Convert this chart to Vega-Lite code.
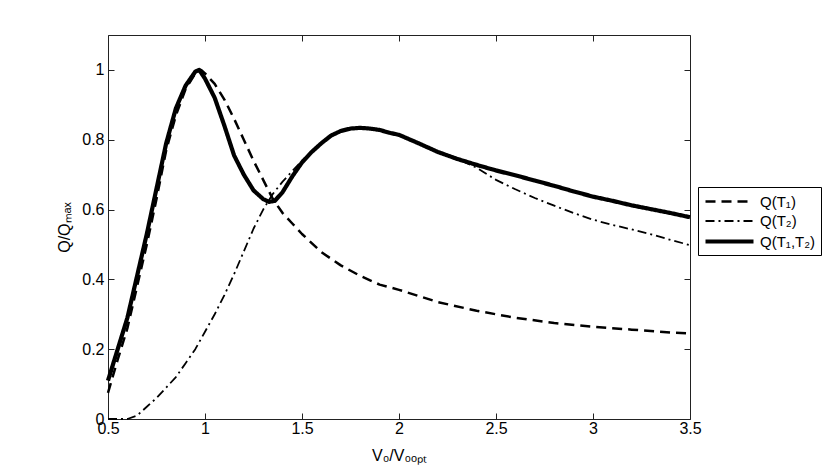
{
  "$schema": "https://vega.github.io/schema/vega-lite/v6.json",
  "width": 582,
  "height": 384,
  "autosize": {"type": "none"},
  "padding": {"left": 108, "top": 35, "right": 140, "bottom": 52},
  "background": "white",
  "config": {
    "font": "Liberation Sans",
    "view": {"stroke": null},
    "axis": {
      "domainColor": "#222222",
      "tickColor": "#222222",
      "tickSize": -6,
      "labelColor": "black",
      "labelFlush": false,
      "labelOverlap": false,
      "titleFontWeight": "normal",
      "titleColor": "black",
      "grid": false
    }
  },
  "data": {
    "values": [
      {"v": 0.5, "q": 0.075, "s": "Q(T₁)"},
      {"v": 0.55, "q": 0.17, "s": "Q(T₁)"},
      {"v": 0.6, "q": 0.26, "s": "Q(T₁)"},
      {"v": 0.65, "q": 0.38, "s": "Q(T₁)"},
      {"v": 0.7, "q": 0.5, "s": "Q(T₁)"},
      {"v": 0.75, "q": 0.63, "s": "Q(T₁)"},
      {"v": 0.8, "q": 0.77, "s": "Q(T₁)"},
      {"v": 0.85, "q": 0.87, "s": "Q(T₁)"},
      {"v": 0.9, "q": 0.945, "s": "Q(T₁)"},
      {"v": 0.95, "q": 0.99, "s": "Q(T₁)"},
      {"v": 0.98, "q": 1.0, "s": "Q(T₁)"},
      {"v": 1.0, "q": 0.99, "s": "Q(T₁)"},
      {"v": 1.05, "q": 0.96, "s": "Q(T₁)"},
      {"v": 1.1, "q": 0.915, "s": "Q(T₁)"},
      {"v": 1.15, "q": 0.86, "s": "Q(T₁)"},
      {"v": 1.2, "q": 0.8, "s": "Q(T₁)"},
      {"v": 1.25, "q": 0.74, "s": "Q(T₁)"},
      {"v": 1.3, "q": 0.685, "s": "Q(T₁)"},
      {"v": 1.35, "q": 0.63, "s": "Q(T₁)"},
      {"v": 1.4, "q": 0.59, "s": "Q(T₁)"},
      {"v": 1.45, "q": 0.56, "s": "Q(T₁)"},
      {"v": 1.5, "q": 0.53, "s": "Q(T₁)"},
      {"v": 1.6, "q": 0.478, "s": "Q(T₁)"},
      {"v": 1.7, "q": 0.44, "s": "Q(T₁)"},
      {"v": 1.8, "q": 0.41, "s": "Q(T₁)"},
      {"v": 1.9, "q": 0.385, "s": "Q(T₁)"},
      {"v": 2.0, "q": 0.37, "s": "Q(T₁)"},
      {"v": 2.2, "q": 0.335, "s": "Q(T₁)"},
      {"v": 2.4, "q": 0.31, "s": "Q(T₁)"},
      {"v": 2.6, "q": 0.29, "s": "Q(T₁)"},
      {"v": 2.8, "q": 0.275, "s": "Q(T₁)"},
      {"v": 3.0, "q": 0.264, "s": "Q(T₁)"},
      {"v": 3.2, "q": 0.256, "s": "Q(T₁)"},
      {"v": 3.4, "q": 0.248, "s": "Q(T₁)"},
      {"v": 3.5, "q": 0.245, "s": "Q(T₁)"},

      {"v": 0.5, "q": 0.0, "s": "Q(T₂)"},
      {"v": 0.6, "q": 0.0, "s": "Q(T₂)"},
      {"v": 0.65, "q": 0.01, "s": "Q(T₂)"},
      {"v": 0.7, "q": 0.035, "s": "Q(T₂)"},
      {"v": 0.75, "q": 0.06, "s": "Q(T₂)"},
      {"v": 0.8, "q": 0.09, "s": "Q(T₂)"},
      {"v": 0.85, "q": 0.12, "s": "Q(T₂)"},
      {"v": 0.9, "q": 0.16, "s": "Q(T₂)"},
      {"v": 0.95, "q": 0.2, "s": "Q(T₂)"},
      {"v": 1.0, "q": 0.25, "s": "Q(T₂)"},
      {"v": 1.05, "q": 0.3, "s": "Q(T₂)"},
      {"v": 1.1, "q": 0.355, "s": "Q(T₂)"},
      {"v": 1.15, "q": 0.415, "s": "Q(T₂)"},
      {"v": 1.2, "q": 0.48, "s": "Q(T₂)"},
      {"v": 1.25, "q": 0.545, "s": "Q(T₂)"},
      {"v": 1.3, "q": 0.6, "s": "Q(T₂)"},
      {"v": 1.35, "q": 0.645, "s": "Q(T₂)"},
      {"v": 1.4, "q": 0.68, "s": "Q(T₂)"},
      {"v": 1.45, "q": 0.71, "s": "Q(T₂)"},
      {"v": 1.5, "q": 0.74, "s": "Q(T₂)"},
      {"v": 1.55, "q": 0.765, "s": "Q(T₂)"},
      {"v": 1.6, "q": 0.79, "s": "Q(T₂)"},
      {"v": 1.65, "q": 0.812, "s": "Q(T₂)"},
      {"v": 1.7, "q": 0.825, "s": "Q(T₂)"},
      {"v": 1.75, "q": 0.832, "s": "Q(T₂)"},
      {"v": 1.8, "q": 0.834, "s": "Q(T₂)"},
      {"v": 1.85, "q": 0.832, "s": "Q(T₂)"},
      {"v": 1.9, "q": 0.828, "s": "Q(T₂)"},
      {"v": 1.95, "q": 0.82, "s": "Q(T₂)"},
      {"v": 2.0, "q": 0.814, "s": "Q(T₂)"},
      {"v": 2.1, "q": 0.79, "s": "Q(T₂)"},
      {"v": 2.2, "q": 0.765, "s": "Q(T₂)"},
      {"v": 2.3, "q": 0.745, "s": "Q(T₂)"},
      {"v": 2.4, "q": 0.72, "s": "Q(T₂)"},
      {"v": 2.5, "q": 0.685, "s": "Q(T₂)"},
      {"v": 2.6, "q": 0.658, "s": "Q(T₂)"},
      {"v": 2.7, "q": 0.633, "s": "Q(T₂)"},
      {"v": 2.8, "q": 0.611, "s": "Q(T₂)"},
      {"v": 2.9, "q": 0.59, "s": "Q(T₂)"},
      {"v": 3.0, "q": 0.571, "s": "Q(T₂)"},
      {"v": 3.1, "q": 0.556, "s": "Q(T₂)"},
      {"v": 3.2, "q": 0.543, "s": "Q(T₂)"},
      {"v": 3.3, "q": 0.529, "s": "Q(T₂)"},
      {"v": 3.4, "q": 0.513, "s": "Q(T₂)"},
      {"v": 3.5, "q": 0.498, "s": "Q(T₂)"},

      {"v": 0.5, "q": 0.11, "s": "Q(T₁,T₂)"},
      {"v": 0.55, "q": 0.2, "s": "Q(T₁,T₂)"},
      {"v": 0.6, "q": 0.29, "s": "Q(T₁,T₂)"},
      {"v": 0.65, "q": 0.41, "s": "Q(T₁,T₂)"},
      {"v": 0.7, "q": 0.53, "s": "Q(T₁,T₂)"},
      {"v": 0.75, "q": 0.66, "s": "Q(T₁,T₂)"},
      {"v": 0.8, "q": 0.79, "s": "Q(T₁,T₂)"},
      {"v": 0.85, "q": 0.89, "s": "Q(T₁,T₂)"},
      {"v": 0.9, "q": 0.955, "s": "Q(T₁,T₂)"},
      {"v": 0.95, "q": 0.995, "s": "Q(T₁,T₂)"},
      {"v": 0.97, "q": 1.0, "s": "Q(T₁,T₂)"},
      {"v": 1.0, "q": 0.975, "s": "Q(T₁,T₂)"},
      {"v": 1.05, "q": 0.92, "s": "Q(T₁,T₂)"},
      {"v": 1.1, "q": 0.84, "s": "Q(T₁,T₂)"},
      {"v": 1.15, "q": 0.755, "s": "Q(T₁,T₂)"},
      {"v": 1.2, "q": 0.7, "s": "Q(T₁,T₂)"},
      {"v": 1.25, "q": 0.655, "s": "Q(T₁,T₂)"},
      {"v": 1.3, "q": 0.63, "s": "Q(T₁,T₂)"},
      {"v": 1.33, "q": 0.622, "s": "Q(T₁,T₂)"},
      {"v": 1.36, "q": 0.625, "s": "Q(T₁,T₂)"},
      {"v": 1.4, "q": 0.65, "s": "Q(T₁,T₂)"},
      {"v": 1.45, "q": 0.695, "s": "Q(T₁,T₂)"},
      {"v": 1.5, "q": 0.735, "s": "Q(T₁,T₂)"},
      {"v": 1.55, "q": 0.765, "s": "Q(T₁,T₂)"},
      {"v": 1.6, "q": 0.79, "s": "Q(T₁,T₂)"},
      {"v": 1.65, "q": 0.812, "s": "Q(T₁,T₂)"},
      {"v": 1.7, "q": 0.825, "s": "Q(T₁,T₂)"},
      {"v": 1.75, "q": 0.832, "s": "Q(T₁,T₂)"},
      {"v": 1.8, "q": 0.834, "s": "Q(T₁,T₂)"},
      {"v": 1.85, "q": 0.832, "s": "Q(T₁,T₂)"},
      {"v": 1.9, "q": 0.828, "s": "Q(T₁,T₂)"},
      {"v": 1.95, "q": 0.82, "s": "Q(T₁,T₂)"},
      {"v": 2.0, "q": 0.814, "s": "Q(T₁,T₂)"},
      {"v": 2.1, "q": 0.79, "s": "Q(T₁,T₂)"},
      {"v": 2.2, "q": 0.765, "s": "Q(T₁,T₂)"},
      {"v": 2.3, "q": 0.745, "s": "Q(T₁,T₂)"},
      {"v": 2.4, "q": 0.728, "s": "Q(T₁,T₂)"},
      {"v": 2.5, "q": 0.712, "s": "Q(T₁,T₂)"},
      {"v": 2.6, "q": 0.698, "s": "Q(T₁,T₂)"},
      {"v": 2.7, "q": 0.683, "s": "Q(T₁,T₂)"},
      {"v": 2.8, "q": 0.668, "s": "Q(T₁,T₂)"},
      {"v": 2.9, "q": 0.652, "s": "Q(T₁,T₂)"},
      {"v": 3.0, "q": 0.637, "s": "Q(T₁,T₂)"},
      {"v": 3.1, "q": 0.625, "s": "Q(T₁,T₂)"},
      {"v": 3.2, "q": 0.612, "s": "Q(T₁,T₂)"},
      {"v": 3.3, "q": 0.601, "s": "Q(T₁,T₂)"},
      {"v": 3.4, "q": 0.59, "s": "Q(T₁,T₂)"},
      {"v": 3.5, "q": 0.578, "s": "Q(T₁,T₂)"}
    ]
  },
  "layer": [
    {
      "mark": {"type": "line", "color": "black", "strokeCap": "butt", "strokeJoin": "round"},
      "encoding": {
        "x": {
          "field": "v", "type": "quantitative",
          "scale": {"domain": [0.5, 3.5], "nice": false, "zero": false},
          "axis": {"values": [0.5, 1, 1.5, 2, 2.5, 3, 3.5], "format": "~g", "title": "V₀/V₀ₒₚₜ", "labelFontSize": 16, "labelPadding": 7, "titleFontSize": 16, "titleY": 28}
        },
        "y": {
          "field": "q", "type": "quantitative",
          "scale": {"domain": [0, 1.1], "nice": false},
          "axis": {"values": [0, 0.2, 0.4, 0.6, 0.8, 1], "format": "~g", "title": "Q/Qₘₐₓ", "labelFontSize": 16, "labelPadding": 10, "titleFontSize": 16, "titleX": -36}
        },
        "detail": {"field": "s"},
        "strokeDash": {
          "field": "s", "type": "nominal",
          "scale": {"domain": ["Q(T₁)", "Q(T₂)", "Q(T₁,T₂)"], "range": [[10, 6], [9, 4, 2, 4], [1, 0]]},
          "legend": {
            "title": null,
            "orient": "none",
            "legendX": 590,
            "legendY": 152,
            "symbolType": "M-1,0H5",
            "symbolSize": 256,
            "symbolStrokeColor": "black",
            "symbolFillColor": "transparent",
            "labelFontSize": 15,
            "labelColor": "black",
            "strokeColor": "black",
            "fillColor": "white",
            "padding": 5,
            "rowPadding": 2,
            "labelOffset": 36
          }
        },
        "strokeWidth": {
          "field": "s", "type": "nominal",
          "scale": {"type": "ordinal", "domain": ["Q(T₁)", "Q(T₂)", "Q(T₁,T₂)"], "range": [2.5, 1.8, 4.2]},
          "legend": null
        }
      }
    },
    {
      "mark": {"type": "rule", "opacity": 0},
      "encoding": {
        "x": {
          "field": "v", "type": "quantitative",
          "axis": {"orient": "top", "values": [0.5, 1, 1.5, 2, 2.5, 3, 3.5], "labels": false, "title": null}
        },
        "y": {
          "field": "q", "type": "quantitative",
          "axis": {"orient": "right", "values": [0, 0.2, 0.4, 0.6, 0.8, 1], "labels": false, "title": null}
        }
      }
    }
  ],
  "resolve": {"scale": {"x": "shared", "y": "shared"}, "axis": {"x": "independent", "y": "independent"}}
}
